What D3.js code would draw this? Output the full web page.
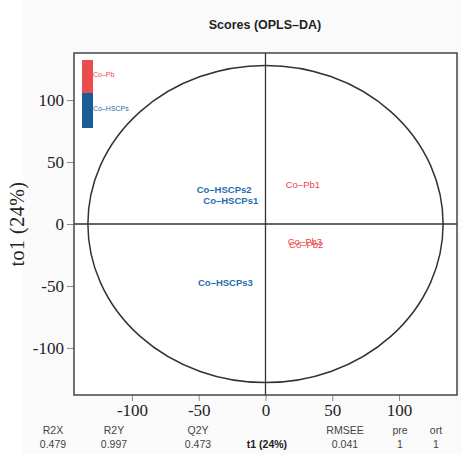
<!DOCTYPE html>
<html>
<head>
<meta charset="utf-8">
<script src="https://cdn.jsdelivr.net/npm/d3@7"></script>
<style>
  body { margin: 0; background: #fff; }
  svg { display: block; }
</style>
</head>
<body>
<svg id="chart" width="461" height="454"></svg>
<script>
// scores
const sampleNames = ["Co–Pb1", "Co–Pb3", "Co–Pb2", "Co–HSCPs2", "Co–HSCPs1", "Co–HSCPs3"];
const sampleGroup = ["Co–Pb", "Co–Pb", "Co–Pb", "Co–HSCPs", "Co–HSCPs", "Co–HSCPs"];
const t1Values = [28, 29.5, 30.5, -31, -26, -30];
const to1Values = [32, -14, -17, 27.5, 18.6, -47];
const groups = ["Co–Pb", "Co–HSCPs"];
const xTicks = [-100, -50, 0, 50, 100];
const yTicks = [-100, -50, 0, 50, 100];
const ellipseRadii = [133, 128];
const statNames = ["R2X", "R2Y", "Q2Y", "", "RMSEE", "pre", "ort"];
const statValues = ["0.479", "0.997", "0.473", "t1 (24%)", "0.041", "1", "1"];

const svg = d3.select("#chart");
const W = 461, H = 454;
const plot = { left: 74, right: 457, top: 53, bottom: 395 };

const labelColor = d3.scaleOrdinal().domain(groups).range(["#ee4444", "#1f6db0"]);
const legendColor = d3.scaleOrdinal().domain(groups).range(["#ea4d4f", "#1b5b96"]);

const x = d3.scaleLinear().domain([-143.4, 143.4]).range([plot.left, plot.right]);
const y = d3.scaleLinear().domain([-138, 138]).range([plot.bottom, plot.top]);

// faint grey page behind the plot
svg.append("rect").attr("x", 23).attr("y", 0).attr("width", W - 23).attr("height", H)
    .attr("fill", "#fafafa");
svg.append("rect")
    .attr("x", plot.left).attr("y", plot.top)
    .attr("width", plot.right - plot.left).attr("height", plot.bottom - plot.top)
    .attr("fill", "#fff");

// title
svg.append("text")
    .attr("x", 265).attr("y", 29)
    .attr("text-anchor", "middle")
    .style("font-family", "Liberation Sans, Arial, sans-serif")
    .style("font-size", "12.5px").style("font-weight", "bold").attr("fill", "#222")
    .text("Scores (OPLS–DA)");

// axes
const xAxis = d3.axisBottom(x).tickValues(xTicks).tickSize(6).tickPadding(3).tickFormat(d3.format("d"));
const yAxis = d3.axisLeft(y).tickValues(yTicks).tickSize(7).tickPadding(3).tickFormat(d3.format("d"));

const gx = svg.append("g").attr("transform", `translate(0,${plot.bottom})`).call(xAxis);
const gy = svg.append("g").attr("transform", `translate(${plot.left},0)`).call(yAxis);
[gx, gy].forEach(g => {
    g.select(".domain").remove();
    g.selectAll(".tick line").attr("stroke", "#888");
    g.selectAll(".tick text")
        .style("font-family", "Liberation Serif, Times New Roman, serif")
        .style("font-size", "17px").attr("fill", "#222");
});
gy.selectAll(".tick text").text(d => d < 0 ? "-" + Math.abs(d) : d);
gx.selectAll(".tick text").text(d => d < 0 ? "-" + Math.abs(d) : d);

// zero lines
svg.append("line").attr("x1", x(0)).attr("x2", x(0)).attr("y1", plot.top).attr("y2", plot.bottom)
    .attr("stroke", "#333").attr("stroke-width", 1.3);
svg.append("line").attr("x1", plot.left).attr("x2", plot.right).attr("y1", y(0)).attr("y2", y(0))
    .attr("stroke", "#333").attr("stroke-width", 1.3);

// confidence ellipse
svg.append("ellipse")
    .attr("cx", x(0)).attr("cy", y(0))
    .attr("rx", x(ellipseRadii[0]) - x(0))
    .attr("ry", y(0) - y(ellipseRadii[1]))
    .attr("fill", "none").attr("stroke", "#333").attr("stroke-width", 1.5);

// frame
svg.append("rect")
    .attr("x", plot.left).attr("y", plot.top)
    .attr("width", plot.right - plot.left).attr("height", plot.bottom - plot.top)
    .attr("fill", "none").attr("stroke", "#444").attr("stroke-width", 1.5);

// sample labels
svg.append("g").selectAll("text")
    .data(sampleNames)
    .join("text")
    .attr("x", (d, i) => x(t1Values[i]))
    .attr("y", (d, i) => y(to1Values[i]))
    .attr("dy", "0.35em")
    .attr("text-anchor", "middle")
    .style("font-family", "Liberation Sans, Arial, sans-serif")
    .style("font-size", "9.5px")
    .style("font-weight", (d, i) => sampleGroup[i] === "Co–HSCPs" ? "bold" : "normal")
    .attr("fill", (d, i) => labelColor(sampleGroup[i]))
    .text(d => d);

// legend
const legend = svg.append("g").attr("transform", "translate(82,60)");
const legendH = [33, 35];
legend.selectAll("rect")
    .data(groups)
    .join("rect")
    .attr("x", 0)
    .attr("y", (d, i) => i === 0 ? 0 : legendH[0])
    .attr("width", 11)
    .attr("height", (d, i) => legendH[i])
    .attr("fill", d => legendColor(d));
legend.selectAll("text")
    .data(groups)
    .join("text")
    .attr("x", 11)
    .attr("y", (d, i) => i === 0 ? 17 : legendH[0] + 18)
    .style("font-family", "Liberation Sans, Arial, sans-serif")
    .style("font-size", "7px")
    .attr("fill", d => labelColor(d))
    .text(d => d);

// y axis title
svg.append("text")
    .attr("transform", `translate(24,${y(0)}) rotate(-90)`)
    .attr("text-anchor", "middle")
    .style("font-family", "Liberation Serif, Times New Roman, serif")
    .style("font-size", "20px").style("letter-spacing", "0.5px").attr("fill", "#222")
    .text("to1 (24%)");

// stats row under the axis
const statX = [53, 114, 198, 267, 345, 400, 436];
const stats = svg.append("g")
    .style("font-family", "Liberation Sans, Arial, sans-serif")
    .style("font-size", "10.5px").attr("fill", "#444");
stats.selectAll(".sn")
    .data(statNames)
    .join("text")
    .attr("x", (d, i) => statX[i]).attr("y", 434)
    .attr("text-anchor", "middle")
    .text(d => d);
stats.selectAll(".sv")
    .data(statValues)
    .join("text")
    .attr("x", (d, i) => statX[i]).attr("y", 448)
    .attr("text-anchor", "middle")
    .style("font-weight", (d, i) => i === 3 ? "bold" : "normal")
    .attr("fill", (d, i) => i === 3 ? "#222" : "#444")
    .text(d => d);
</script>
</body>
</html>
